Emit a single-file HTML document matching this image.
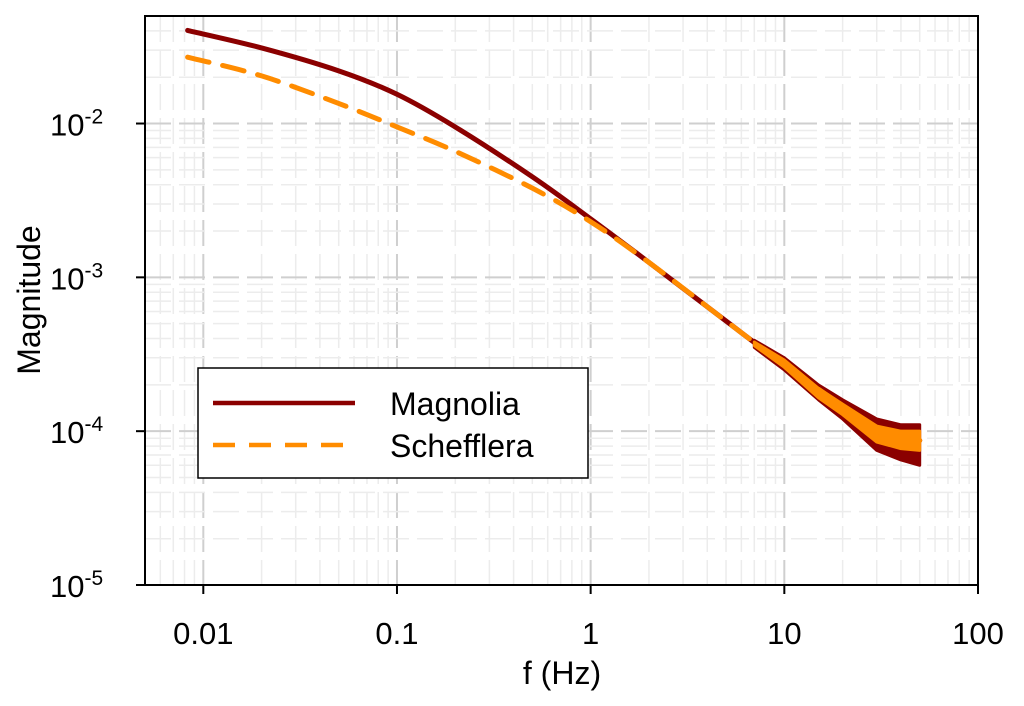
<!DOCTYPE html>
<html><head><meta charset="utf-8"><style>
body{margin:0;background:#fff;}
svg{display:block;font-family:"Liberation Sans",Arial,sans-serif;}
</style></head><body>
<svg id="chart" width="1024" height="706">
<g id="grid"></g>
<g id="series"></g>
<rect x="145" y="16" width="833" height="569" fill="none" stroke="#000" stroke-width="2"/>
<g id="ticks"></g>
<text x="562" y="684" font-size="32" text-anchor="middle">f (Hz)</text>
<text transform="translate(40,300) rotate(-90)" font-size="32" text-anchor="middle">Magnitude</text>
<g>
<rect x="198" y="368" width="390" height="110" fill="#fff" stroke="#000" stroke-width="1.5"/>
<line x1="213" y1="403" x2="355" y2="403" stroke="#8b0000" stroke-width="4.5"/>
<text x="390" y="415" font-size="32">Magnolia</text>
<line x1="213" y1="445" x2="355" y2="445" stroke="#ff8c00" stroke-width="4.5" stroke-dasharray="22,14"/>
<text x="390" y="457" font-size="32">Schefflera</text>
</g>
</svg>
<script>
const freqs=[0.0083,0.02,0.05,0.1,0.2,0.5,1,2,5,10,20,30,50];
const magnolia=[0.0403,0.031,0.022,0.0155,0.0095,0.0045,0.0024,0.00125,0.00052,0.00027,0.000145,0.0001,0.000087];
const schefflera=[0.027,0.0204,0.0135,0.0095,0.0066,0.0038,0.0023,0.00125,0.00052,0.00027,0.000145,0.0001,0.000087];
const noiseF=[7,10,15,20,30,40,50];
const magUpper=[0.00039,0.0003,0.0002,0.00016,0.00012,0.00011,0.00011];
const magLower=[0.00035,0.00025,0.00016,0.00012,0.000075,0.000065,0.00006];
const schUpper=[0.00038,0.00029,0.00019,0.00015,0.000108,0.0001,0.0001];
const schLower=[0.00036,0.00026,0.000165,0.000128,0.000085,0.000077,0.000075];
const xTicks=["0.01","0.1","1","10","100"];
const yExp=["-2","-3","-4","-5"];
const X0=145,X1=978,Y0=16,Y1=585,LX0=Math.log10(0.005),LX1=2,LY0=Math.log10(0.05),LY1=-5;
const sx=f=>X0+(Math.log10(f)-LX0)/(LX1-LX0)*(X1-X0);
const sy=v=>Y0+(Math.log10(v)-LY0)/(LY1-LY0)*(Y1-Y0);
const NS="http://www.w3.org/2000/svg";
function mk(t,a,p){const e=document.createElementNS(NS,t);for(const k in a)e.setAttribute(k,a[k]);p.appendChild(e);return e;}
function smooth(pts){let d='M'+pts[0][0]+','+pts[0][1];for(let i=0;i<pts.length-1;i++){const p0=pts[i-1]||pts[i],p1=pts[i],p2=pts[i+1],p3=pts[i+2]||p2;
 d+=' C'+(p1[0]+(p2[0]-p0[0])/6)+','+(p1[1]+(p2[1]-p0[1])/6)+' '+(p2[0]-(p3[0]-p1[0])/6)+','+(p2[1]-(p3[1]-p1[1])/6)+' '+p2[0]+','+p2[1];}return d;}
const grid=document.getElementById('grid'),ser=document.getElementById('series'),tk=document.getElementById('ticks');
for(let d=-3;d<=1;d++)for(let m=1;m<10;m++){const f=m*Math.pow(10,d);if(f<0.005||f>100)continue;const x=sx(f);
 const l=mk('line',{x1:x,y1:Y0,x2:x,y2:Y1,stroke:m==1?'#cfcfcf':'#ececec','stroke-width':m==1?2:1.5,'stroke-dasharray':'26,8'},grid);
 }
for(let d=-6;d<=-2;d++)for(let m=1;m<10;m++){const v=m*Math.pow(10,d);if(v<1e-5||v>0.05)continue;const y=sy(v);
 const l=mk('line',{x1:X0,y1:y,x2:X1,y2:y,stroke:m==1?'#cfcfcf':'#ececec','stroke-width':m==1?2:1.5,'stroke-dasharray':'26,8'},grid);
 }
function band(up,lo,col,name){let p=noiseF.map((f,i)=>sx(f)+','+sy(up[i]));p=p.concat(noiseF.slice().reverse().map((f,i)=>sx(f)+','+sy(lo[lo.length-1-i])));
 const e=mk('polygon',{points:p.join(' '),fill:col,stroke:col,'stroke-width':3,'stroke-linejoin':'round'},ser);
 }
band(magUpper,magLower,'#8b0000','magnolia-noise');
const m=mk('path',{d:smooth(freqs.map((f,i)=>[sx(f),sy(magnolia[i])])),fill:'none',stroke:'#8b0000','stroke-width':5,'stroke-linecap':'round'},ser);

band(schUpper,schLower,'#ff8c00','schefflera-noise');
const s=mk('path',{d:smooth(freqs.map((f,i)=>[sx(f),sy(schefflera[i])])),fill:'none',stroke:'#ff8c00','stroke-width':5,'stroke-dasharray':'22,14','stroke-linecap':'round'},ser);

xTicks.forEach(t=>{const x=sx(parseFloat(t));
 const l=mk('line',{x1:x,y1:Y1,x2:x,y2:Y1+9,stroke:'#000','stroke-width':2},tk);
 const e=mk('text',{x:x,y:644,'font-size':31,'text-anchor':'middle'},tk);e.textContent=t;});
yExp.forEach(t=>{const y=sy(Math.pow(10,parseInt(t)));
 const l=mk('line',{x1:X0-9,y1:y,x2:X0,y2:y,stroke:'#000','stroke-width':2},tk);
 const e=mk('text',{x:50,y:y+12,'font-size':31},tk);e.textContent='10';
 const sp=mk('tspan',{dy:-12,'font-size':21},e);sp.textContent=t;
 });
</script>
</body></html>
